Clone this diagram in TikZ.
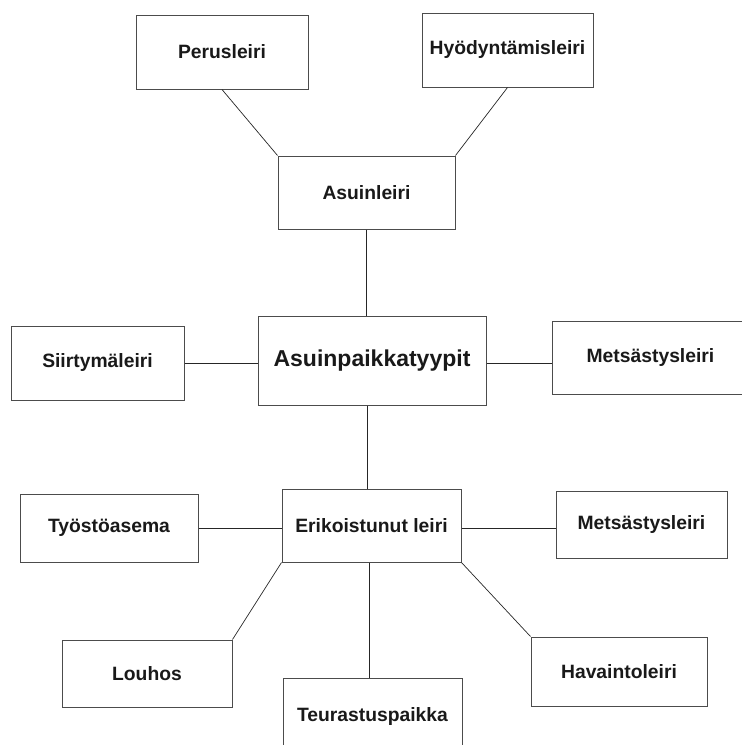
\documentclass[tikz,border=0pt]{standalone}
\usepackage{fontspec}
\setmainfont{Liberation Sans}
\usepackage{tikz}

\tikzset{
    leiri/.style={draw=black!70, line width=1pt, inner sep=0pt, text=black!90,
        font=\fontsize{19.3}{23}\selectfont\bfseries},
    viiva/.style={draw=black!85, line width=0.7pt}
}

\begin{document}
\begin{tikzpicture}[x=1pt, y=-1pt]
    \useasboundingbox (0,0) rectangle (742,745);
    % Keskus
    \node[leiri, minimum width=228pt, minimum height=89pt,
        font=\fontsize{23}{27}\selectfont\bfseries] (keskus) at (372,360.5) {Asuinpaikkatyypit};
    % Asuinleirit
    \node[leiri, minimum width=177pt, minimum height=73pt] (asuin) at (366.5,192.5) {Asuinleiri};
    \node[leiri, minimum width=172pt, minimum height=74pt] (perus) at (222,52) {Perusleiri};
    \node[leiri, minimum width=171pt, minimum height=74pt] (hyod) at (507.5,50) {Hyödyntämisleiri};
    % Sivuilla
    \node[leiri, minimum width=173pt, minimum height=74pt] (siirt) at (97.5,363) {Siirtymäleiri};
    \node[leiri, minimum width=197pt, minimum height=73pt] (mets1) at (650.5,357.5) {Metsästysleiri};
    % Erikoistuneet leirit
    \node[leiri, minimum width=179pt, minimum height=73pt] (eriko) at (371.5,525.5) {Erikoistunut leiri};
    \node[leiri, minimum width=178pt, minimum height=68pt] (tyosto) at (109,528) {Työstöasema};
    \node[leiri, minimum width=171pt, minimum height=67pt] (mets2) at (641.5,524.5) {Metsästysleiri};
    \node[leiri, minimum width=170pt, minimum height=67pt] (louhos) at (147,673.5) {Louhos};
    \node[leiri, minimum width=176pt, minimum height=69pt] (havainto) at (619,671.5) {Havaintoleiri};
    \node[leiri, minimum width=179pt, minimum height=78pt] (teur) at (372.5,717) {Teurastuspaikka};
    % Viivat
    \draw[viiva] (perus.south) -- (asuin.north west);
    \draw[viiva] (hyod.south) -- (asuin.north east);
    \draw[viiva] (asuin.south) -- (asuin.south |- keskus.north);
    \draw[viiva] (siirt.east) -- (siirt.east -| keskus.west);
    \draw[viiva] ([yshift=-3pt]keskus.east) -- ([yshift=-3pt]keskus.east -| mets1.west);
    \draw[viiva] ([xshift=-5pt]keskus.south) -- ([xshift=-5pt]keskus.south |- eriko.north);
    \draw[viiva] (tyosto.east) -- (tyosto.east -| eriko.west);
    \draw[viiva] ([yshift=-3pt]eriko.east) -- ([yshift=-3pt]eriko.east -| mets2.west);
    \draw[viiva] (eriko.south west) -- (louhos.north east);
    \draw[viiva] (eriko.south east) -- (havainto.north west);
    \draw[viiva] ([xshift=-2pt]eriko.south) -- ([xshift=-2pt]eriko.south |- teur.north);
\end{tikzpicture}
\end{document}
